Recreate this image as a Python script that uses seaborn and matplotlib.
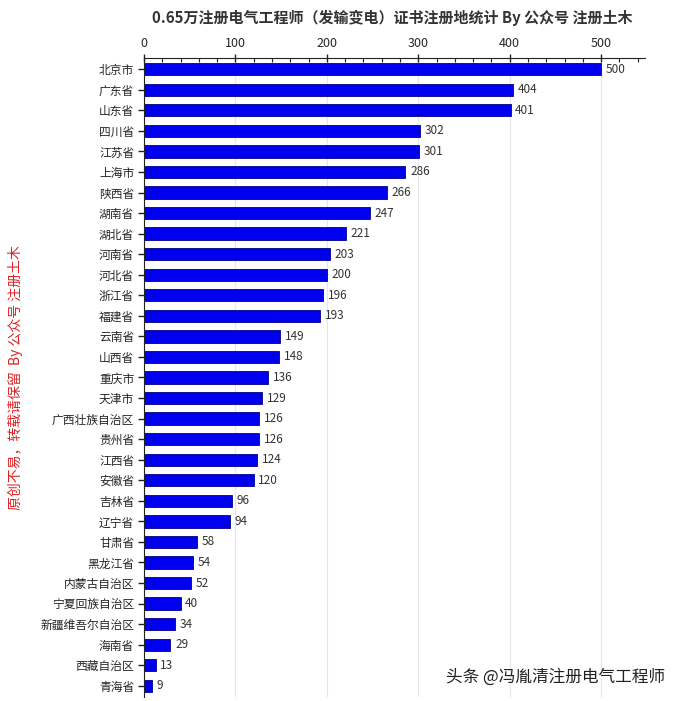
"""
Bar chart of certificate registration locations.
"""

import matplotlib.pyplot as plt
from matplotlib.ticker import MultipleLocator
import pandas as pd
import seaborn as sns

provinces = ['北京市', '广东省', '山东省', '四川省', '江苏省', '上海市', '陕西省', '湖南省',
             '湖北省', '河南省', '河北省', '浙江省', '福建省', '云南省', '山西省', '重庆市',
             '天津市', '广西壮族自治区', '贵州省', '江西省', '安徽省', '吉林省', '辽宁省',
             '甘肃省', '黑龙江省', '内蒙古自治区', '宁夏回族自治区', '新疆维吾尔自治区',
             '海南省', '西藏自治区', '青海省']
counts = [500, 404, 401, 302, 301, 286, 266, 247, 221, 203, 200, 196, 193, 149, 148, 136,
          129, 126, 126, 124, 120, 96, 94, 58, 54, 52, 40, 34, 29, 13, 9]


def main():
    sns.set_style("white")
    plt.rcParams['font.family'] = ['Noto Sans CJK SC', 'DejaVu Sans']

    df = pd.DataFrame({"province": provinces, "count": counts})

    fig = plt.figure(figsize=(6.79, 7.01), dpi=100)
    ax = fig.add_axes([0.212, 0.006, 0.738, 0.911])

    sns.barplot(data=df, x="count", y="province", color="#0000ee",
                saturation=1, width=0.6, edgecolor="#00008b", linewidth=0.6, ax=ax)

    # Value labels
    for i, v in enumerate(counts):
        ax.text(v + 5, i, str(v), va="center", ha="left", fontsize=8.5, color="#333333")

    ax.set_xlim(0, 548)
    ax.set_ylim(len(provinces) - 0.465, -0.535)
    ax.xaxis.tick_top()
    ax.xaxis.set_major_locator(MultipleLocator(100))
    ax.xaxis.set_minor_locator(MultipleLocator(20))
    ax.tick_params(axis="x", which="major", length=6, width=1, color="#222222",
                   labelsize=9, pad=3, top=True, direction="inout")
    ax.tick_params(axis="x", which="minor", length=3, width=0.8, color="#222222",
                   top=True, direction="in")
    ax.tick_params(axis="y", length=4, width=1, color="#222222", labelsize=8.5, pad=3, left=True)
    ax.grid(axis="x", which="major", color="#e6e6e6", linewidth=0.8)
    ax.set_axisbelow(True)
    ax.set_xlabel("")
    ax.set_ylabel("")

    for side in ["right", "bottom"]:
        ax.spines[side].set_visible(False)
    ax.spines["top"].set_color("#222222")
    ax.spines["left"].set_color("#222222")

    fig.text(0.578, 0.974, "0.65万注册电气工程师（发输变电）证书注册地统计 By 公众号 注册土木",
             ha="center", va="center", fontsize=10.8, fontweight="bold", color="#333333")
    fig.text(0.022, 0.461, "原创不易，转载请保留  By 公众号 注册土木", rotation=90,
             ha="center", va="center", fontsize=10, color="#dd2222", style="italic")
    fig.text(0.98, 0.034, "头条 @冯胤清注册电气工程师", ha="right", va="center",
             fontsize=12, color="#222222")

    plt.savefig("out.png", dpi=100)


if __name__ == "__main__":
    main()
